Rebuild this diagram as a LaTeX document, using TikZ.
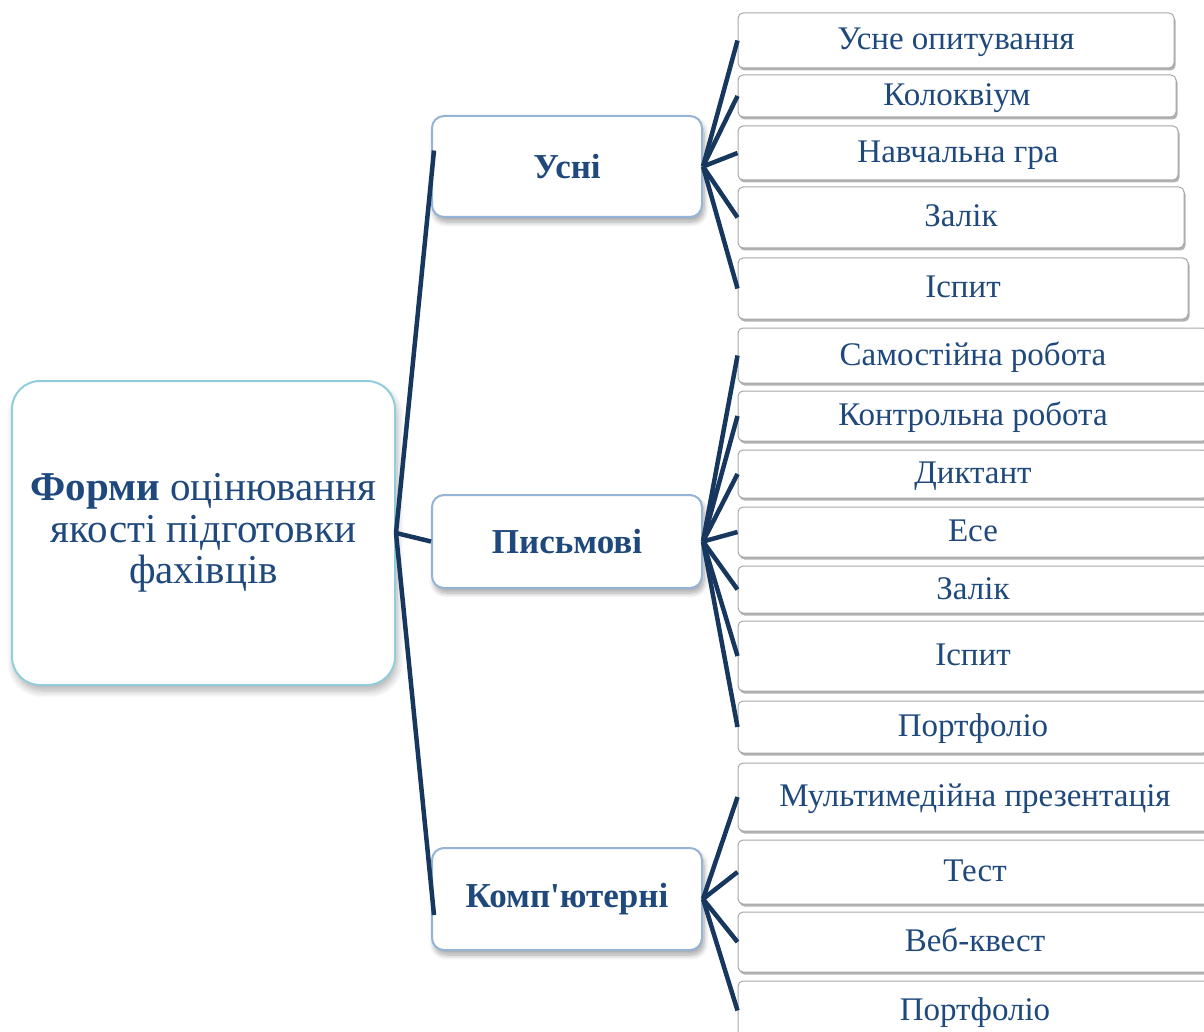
\documentclass[tikz,border=0pt]{standalone}
\usepackage{fontspec}
\setmainfont{Liberation Serif}
\usetikzlibrary{shadows,shadows.blur}

\definecolor{inkblue}{HTML}{1F497D}
\definecolor{linkblue}{HTML}{17375E}
\definecolor{midframe}{HTML}{95B3D7}
\definecolor{rootframe}{HTML}{92CDDC}
\definecolor{leafframe}{HTML}{A6A6A6}

\tikzset{
  leafbox/.style={draw=leafframe, line width=1pt, fill=white, rounded corners=5pt,
    inner sep=0pt, text=inkblue, font=\fontsize{33}{36}\selectfont,
    text height=26pt, text depth=7pt,
    drop shadow={shadow xshift=1.5pt, shadow yshift=-2.5pt, fill=black!55, opacity=.55}},
  midbox/.style={draw=midframe, line width=2pt, fill=white, rounded corners=12pt,
    inner sep=0pt, text=inkblue, font=\fontsize{35}{40}\selectfont\bfseries,
    blur shadow={shadow xshift=2pt, shadow yshift=-5pt, shadow blur radius=5pt,
      shadow blur steps=8, shadow opacity=35}},
  rootbox/.style={draw=rootframe, line width=2pt, fill=white, rounded corners=28pt,
    inner sep=0pt, text=inkblue, align=center, font=\fontsize{41}{41.5}\selectfont,
    blur shadow={shadow xshift=2pt, shadow yshift=-6pt, shadow blur radius=7pt,
      shadow blur steps=8, shadow opacity=30}},
  link/.style={draw=linkblue, line width=4.5pt}
}

% \placebox{style}{name}{x1}{y1}{x2}{y2}{text}: a box given by its corners
\newcommand\placebox[7]{%
  \node[#1, minimum width={(#5)-(#3)}, minimum height={(#6)-(#4)}]
    (#2) at ({((#3)+(#5))/2},{((#4)+(#6))/2}) {#7};}

\begin{document}
\begin{tikzpicture}[x=1pt, y=-1pt]
  \useasboundingbox (0,0) rectangle (1204,1032);

  % central box
  \placebox{rootbox}{root}{12}{381}{395}{685}{\textbf{Форми} оцінювання\\якості підготовки\\фахівців}

  % three kinds of assessment
  \placebox{midbox}{usni}{432}{116}{702}{217}{Усні}
  \placebox{midbox}{pysm}{432}{495}{702}{588}{Письмові}
  \placebox{midbox}{komp}{432}{848}{702}{950}{Комп\textquotesingle ютерні}

  % oral forms
  \placebox{leafbox}{u1}{738}{13}{1174}{68}{Усне опитування}
  \placebox{leafbox}{u2}{738}{75}{1176}{117}{Колоквіум}
  \placebox{leafbox}{u3}{738}{126}{1178}{180}{Навчальна гра}
  \placebox{leafbox}{u4}{738}{187}{1184}{248}{Залік}
  \placebox{leafbox}{u5}{738}{258}{1188}{319}{Іспит}

  % written forms
  \placebox{leafbox}{p1}{738}{328}{1208}{383}{Самостійна робота}
  \placebox{leafbox}{p2}{738}{391}{1208}{441}{Контрольна робота}
  \placebox{leafbox}{p3}{738}{450}{1208}{498}{Диктант}
  \placebox{leafbox}{p4}{738}{507}{1208}{557}{Есе}
  \placebox{leafbox}{p5}{738}{566}{1208}{613}{Залік}
  \placebox{leafbox}{p6}{738}{621}{1208}{691}{Іспит}
  \placebox{leafbox}{p7}{738}{701}{1208}{753}{Портфоліо}

  % computer-based forms
  \placebox{leafbox}{k1}{738}{763}{1212}{831}{Мультимедійна презентація}
  \placebox{leafbox}{k2}{738}{840}{1212}{904}{Тест}
  \placebox{leafbox}{k3}{738}{912}{1212}{972}{Веб-квест}
  \placebox{leafbox}{k4}{738}{981}{1212}{1040}{Портфоліо}

  % connectors from the central box
  \draw[link] (root.east) -- ([xshift=3pt,yshift=16pt]usni.west);
  \draw[link] (root.east) -- (pysm.west);
  \draw[link] (root.east) -- ([xshift=3pt,yshift=-16pt]komp.west);

  % connectors to the individual forms
  \foreach \leaf in {u1,u2,u3,u4,u5}
    \draw[link] (usni.east) -- (\leaf.west);
  \foreach \leaf in {p1,p2,p3,p4,p5,p6,p7}
    \draw[link] (pysm.east) -- (\leaf.west);
  \foreach \leaf in {k1,k2,k3,k4}
    \draw[link] (komp.east) -- (\leaf.west);
\end{tikzpicture}
\end{document}
